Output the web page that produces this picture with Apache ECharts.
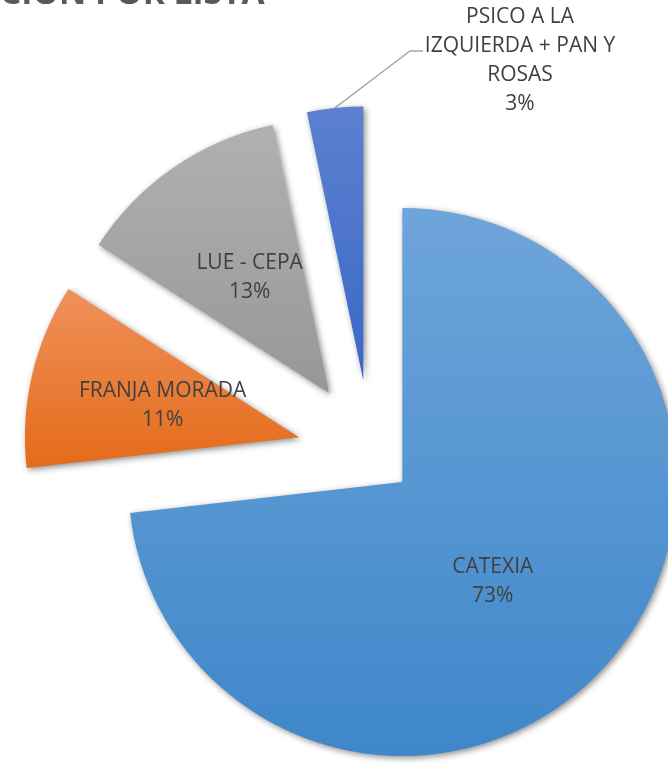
<!DOCTYPE html>
<html><head><meta charset="utf-8">
<script src="https://cdn.jsdelivr.net/npm/echarts@6/dist/echarts.min.js"></script>
<style>html,body{margin:0;padding:0;background:#fff;overflow:hidden}#c{width:668px;height:763px}</style>
</head><body><div id="c"></div>
<script>
// ---- data ----
const categories = ['CATEXIA', 'FRANJA MORADA', 'LUE - CEPA', 'PSICO A LA\nIZQUIERDA + PAN Y\nROSAS'];
const values = [73.2, 10.9, 12.6, 3.3];
const titleText = 'CIÓN POR LISTA';

// ---- style ----
const pieCenter = [371, 454];
const pieRadius = 274;
const explodeOffsets = [42, 74, 74, 74];
const gradients = [
  ['#6ea5da', '#3f87ca'],
  ['#f0915a', '#e46b1a'],
  ['#b1b1b1', '#979797'],
  ['#5d80d0', '#3968c6']
];
const labelFont = 'Open Sans';

const chart = echarts.init(document.getElementById('c'), null, {renderer: 'canvas'});
const total = values.reduce((a, b) => a + b, 0);
let cum = 0;
const series = values.map((v, i) => {
  const mid = (cum + v / 2) / total * 2 * Math.PI;
  cum += v;
  const cx = pieCenter[0] + explodeOffsets[i] * Math.sin(mid);
  const cy = pieCenter[1] - explodeOffsets[i] * Math.cos(mid);
  const outside = i === 3;
  return {
    type: 'pie',
    center: [cx, cy],
    radius: [0, pieRadius],
    startAngle: 90,
    clockwise: true,
    percentPrecision: 0,
    animation: false,
    silent: true,
    avoidLabelOverlap: false,
    z: i === 3 ? 3 : 2,
    data: categories.map((name, j) => ({
      name: name,
      value: values[j],
      itemStyle: j === i ? {
        color: new echarts.graphic.LinearGradient(0, 0, 0, 1, [
          {offset: 0, color: gradients[j][0]},
          {offset: 1, color: gradients[j][1]}
        ]),
        borderWidth: 0,
        shadowBlur: 6,
        shadowOffsetX: 2,
        shadowOffsetY: 2,
        shadowColor: 'rgba(0,0,0,0.45)'
      } : {color: 'rgba(0,0,0,0)', borderWidth: 0, shadowBlur: 0},
      label: {show: j === i},
      labelLine: {show: j === i && outside}
    })),
    label: {
      position: outside ? 'outside' : 'inside',
      formatter: '{b}\n{d}%',
      color: '#404040',
      fontFamily: labelFont,
      fontSize: 21,
      lineHeight: 29,
      align: 'center'
    },
    labelLine: {lineStyle: {color: '#a6a6a6', width: 1.3}, length: 20, length2: 10},
    labelLayout: outside ? function (p) {
      const start = (p.labelLinePoints && p.labelLinePoints[0]) || [335, 107];
      return {
        x: 520, y: 61, align: 'center', verticalAlign: 'middle',
        labelLinePoints: [start, [410, 51], [423, 51]]
      };
    } : (i === 0 ? {dx: -14, dy: 6} : null)
  };
});

chart.setOption({
  backgroundColor: '#ffffff',
  animation: false,
  graphic: [{
    type: 'text',
    left: 0,
    top: -23,
    style: {
      text: titleText,
      fill: '#595959',
      font: 'bold 33.5px "Open Sans"'
    }
  }],
  series: series
});
</script>
</body></html>
